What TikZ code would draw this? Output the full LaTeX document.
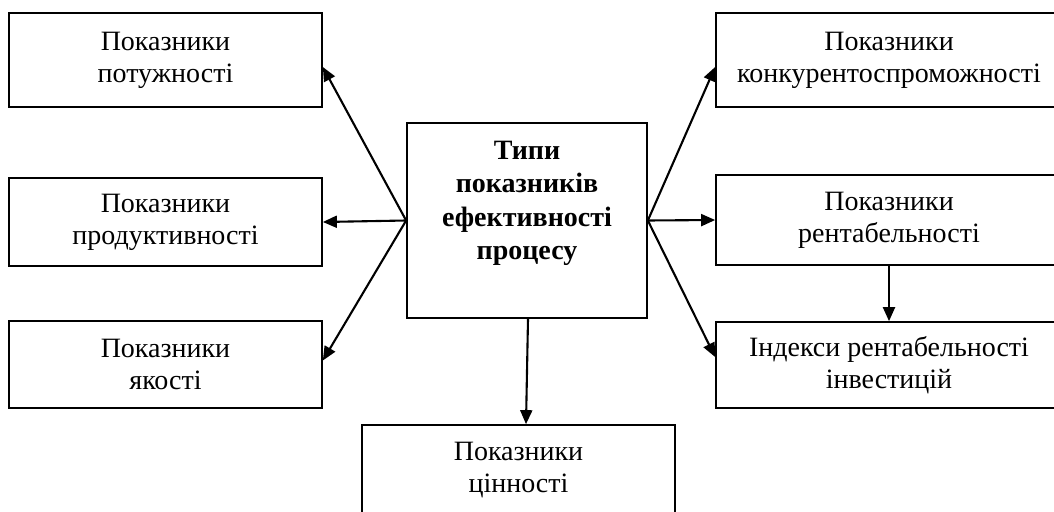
\documentclass[tikz,border=0pt]{standalone}
\usepackage{fontspec}
\setmainfont{Liberation Serif}
\usetikzlibrary{arrows.meta}
\tikzset{
  box/.style={draw, line width=1.7pt, rectangle, inner sep=0pt, align=center,
              font=\fontsize{28}{32}\selectfont},
  arr/.style={line width=2.1pt, -{Triangle[length=14pt,width=12pt]}},
}
\begin{document}
\begin{tikzpicture}[x=1pt, y=-1pt]
\useasboundingbox (0,0) rectangle (1054,511);
\clip (0,0) rectangle (1054,511);

% left column
\node[box, minimum width=313pt, minimum height=94pt] (l1) at (165.5,60)
  {Показники\\потужності};
\node[box, minimum width=313pt, minimum height=88pt] (l2) at (165.5,222)
  {Показники\\продуктивності};
\node[box, minimum width=313pt, minimum height=87pt] (l3) at (165.5,364.5)
  {Показники\\якості};

% central box
\node[box, minimum width=240pt, minimum height=195pt] (c) at (527,220.5) {};
\node[anchor=north, align=center, font=\fontsize{28}{33.5}\selectfont\bfseries]
  (ct) at ([yshift=-15pt]c.north) {Типи\\показників\\ефективності\\процесу};

% right column
\node[box, minimum width=346pt, minimum height=94pt] (r1) at (889,60)
  {Показники\\конкурентоспроможності};
\node[box, minimum width=346pt, minimum height=90pt] (r2) at (889,220)
  {Показники\\рентабельності};
\node[box, minimum width=346pt, minimum height=86pt] (r3) at (889,365)
  {Індекси рентабельності\\інвестицій};

% bottom box
\node[box, minimum width=313pt, minimum height=90pt] (b) at (518.5,470)
  {Показники\\цінності};

% connectors
\draw[arr] (c.west) -- ([yshift=-7pt]l1.east);
\draw[arr] (c.west) -- (l2.east);
\draw[arr] (c.west) -- ([yshift=4pt]l3.east);
\draw[arr] (c.east) -- ([yshift=-7pt]r1.west);
\draw[arr] (c.east) -- (r2.west);
\draw[arr] (c.east) -- ([yshift=8pt]r3.west);
\draw[arr] ([xshift=1pt]c.south) -- ([xshift=7.5pt]b.north);
\draw[arr] (r2.south) -- (r3.north);
\end{tikzpicture}
\end{document}
